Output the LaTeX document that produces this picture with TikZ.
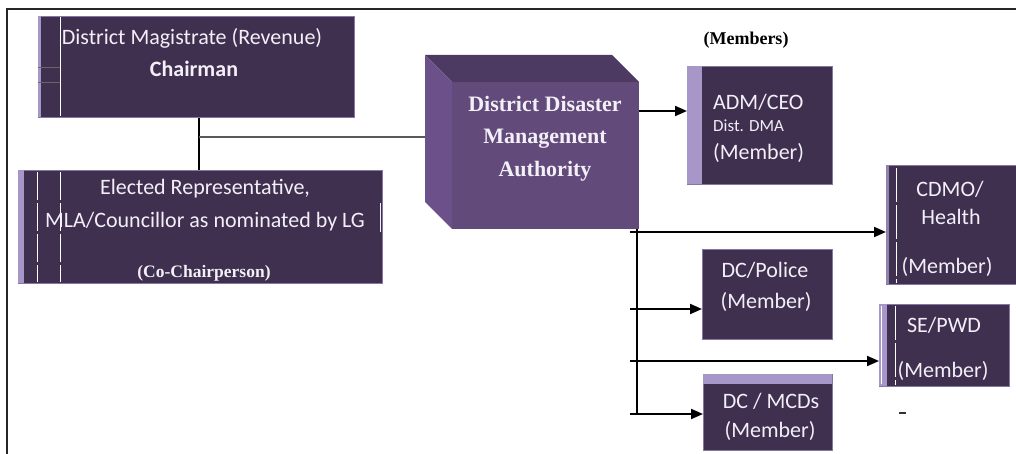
\documentclass[tikz,border=0pt]{standalone}
\usepackage{fontspec}
\setmainfont{Carlito}
\newfontfamily\tnr{Liberation Serif}
\usetikzlibrary{arrows.meta}

\definecolor{boxdark}{HTML}{3F3050}
\definecolor{boxedge}{HTML}{A796C8}
\definecolor{cubefront}{HTML}{624A7B}
\definecolor{cubetop}{HTML}{4C3A62}
\definecolor{cubeside}{HTML}{6B5089}
\definecolor{boxtext}{HTML}{F3EFF7}

\tikzset{
  box/.style={rectangle, fill=boxdark, draw=boxedge!70!boxdark, line width=0.8pt,
    inner sep=0pt, anchor=north west},
  txt/.style={text=boxtext, font=\fontsize{22}{24}\selectfont, inner sep=0pt, anchor=base},
  small/.style={text=boxtext, font=\fontsize{17}{19}\selectfont, inner sep=0pt, anchor=base},
  serifw/.style={text=boxtext, font=\tnr\bfseries\fontsize{22}{24}\selectfont, inner sep=0pt, anchor=base},
  conn/.style={line width=2pt, black},
  arr/.style={conn, -{Triangle[length=12pt,width=10pt]}},
  divider/.style={white, line width=0.8pt},
}

\begin{document}
\begin{tikzpicture}[x=1pt,y=-1pt]
\useasboundingbox (0,0) rectangle (1016,454);
\fill[white] (0,0) rectangle (1016,454);

% outer frame (top and left edges)
\draw[line width=2.6pt, black!85] (7,454) -- (7,9) -- (1016,9);

% ---------- chairman ----------
\node[box, minimum width=316pt, minimum height=101pt] (dm) at (38,16) {};
\fill[boxedge] (38,16) rectangle (41,117);
\draw[divider] (60,17) -- (60,116);
\draw[black!60, line width=0.6pt] (38,67) -- (60,67) (38,82) -- (60,82);
\node[txt] (dmA) at (192,45) {District Magistrate (Revenue)};
\node[txt, font=\bfseries\fontsize{22}{24}\selectfont] (dmB) at (194,77) {Chairman};

% ---------- co-chairperson ----------
\node[box, minimum width=364pt, minimum height=113pt] (el) at (18,170) {};
\fill[boxedge] (18,170) rectangle (24,283);
\draw[divider, dash pattern=on 28pt off 3pt] (37,172) -- (37,282);
\draw[divider, dash pattern=on 28pt off 3pt] (60,172) -- (60,282);
\draw[boxtext, line width=1pt] (380,203) -- (380,232);
\node[txt] (elA) at (205,195) {Elected Representative,};
\node[txt] (elB) at (205,227) {MLA/Councillor as nominated by LG};
\node[serifw, font=\tnr\bfseries\fontsize{17.5}{19}\selectfont] (elC) at (204,277) {(Co-Chairperson)};

% ---------- authority (block) ----------
\fill[cubetop] (425,55) -- (612,55) -- (639,82) -- (452,82) -- cycle;
\fill[cubeside] (425,55) -- (452,82) -- (452,229) -- (425,202) -- cycle;
\node[rectangle, fill=cubefront, inner sep=0pt, anchor=north west,
      minimum width=187pt, minimum height=147pt] (dda) at (452,82) {};
\node[serifw] (ddaA) at (545,112) {District Disaster};
\node[serifw] (ddaB) at (545,144) {Management};
\node[serifw] (ddaC) at (545,177) {Authority};

% ---------- members ----------
\node[anchor=base, inner sep=0pt, font=\tnr\bfseries\fontsize{18}{20}\selectfont] (mem) at (746,45) {(Members)};

\node[box, minimum width=145pt, minimum height=118pt] (adm) at (687,66) {};
\fill[boxedge] (687,66) rectangle (702,184);
\node[txt, anchor=base west] (admA) at (713,110) {ADM/CEO};
\node[small, anchor=base west] (admB) at (713,132) {Dist. DMA};
\node[txt, anchor=base west] (admC) at (713,160) {(Member)};

\node[box, minimum width=132pt, minimum height=119pt] (cdmo) at (886,165) {};
\fill[boxedge!80!boxdark] (886,165) rectangle (889,284);
\draw[divider, dash pattern=on 34pt off 3pt] (896,168) -- (896,283);
\node[txt] (cdmoA) at (950,197) {CDMO/};
\node[txt] (cdmoB) at (951,225) {Health};
\node[txt] (cdmoC) at (947,273) {(Member)};

\node[box, minimum width=130pt, minimum height=90pt] (police) at (702,249) {};
\node[txt] (policeA) at (765,277) {DC/Police};
\node[txt] (policeB) at (766,308) {(Member)};

\node[box, minimum width=130pt, minimum height=82pt] (pwd) at (879,304) {};
\fill[boxedge] (879,304) rectangle (887,386);
\draw[divider] (881,306) -- (881,384);
\draw[divider, dash pattern=on 34pt off 3pt] (895,306) -- (895,385);
\node[txt] (pwdA) at (944,332) {SE/PWD};
\node[txt] (pwdB) at (943,377) {(Member)};

\node[box, minimum width=129pt, minimum height=76pt] (mcd) at (703,374) {};
\fill[boxedge] (703,374) rectangle (832,384);
\node[txt] (mcdA) at (771,408) {DC / MCDs};
\node[txt] (mcdB) at (770,437) {(Member)};

% short stray mark
\draw[line width=1.4pt, black!80] (899,413) -- (906,413);

% ---------- connectors ----------
\coordinate (jx) at (199,137);
\coordinate (sideface) at (425,137);
\draw[conn] (dm.south -| jx) -- (el.north -| jx);
\draw[line width=1.6pt, black!65] (jx) -- (sideface);

\coordinate (a0) at (639,111);
\draw[arr] (a0) -- (adm.west |- a0);

\coordinate (bx) at (637,229);
\coordinate (r1) at (630,232);
\coordinate (r2) at (630,309);
\coordinate (r3) at (630,361);
\coordinate (r4) at (630,414);
\draw[conn] (bx) -- (bx |- r4);
\draw[arr] (r1) -- (cdmo.west |- r1);
\draw[arr] (r2) -- (police.west |- r2);
\draw[arr] (r3) -- (pwd.west |- r3);
\draw[arr] (r4) -- (mcd.west |- r4);
\end{tikzpicture}
\end{document}
